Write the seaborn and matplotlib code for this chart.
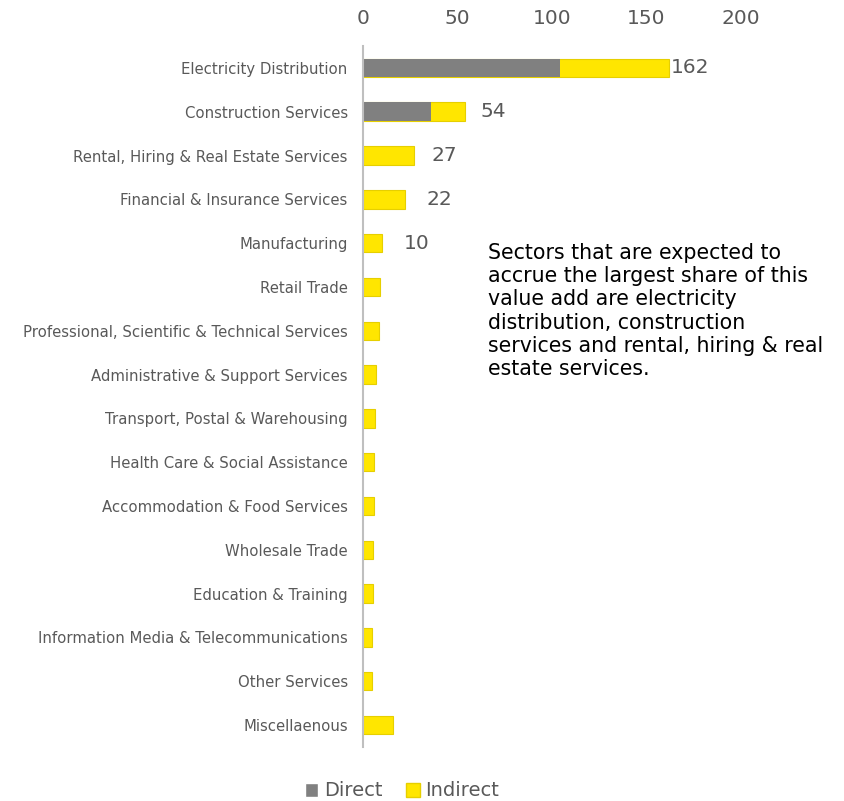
import numpy as np
import pandas as pd
from matplotlib import pyplot as plt
from matplotlib.patches import Patch
import seaborn as sns

sectors = ["Electricity Distribution", "Construction Services",
           "Rental, Hiring & Real Estate Services", "Financial & Insurance Services",
           "Manufacturing", "Retail Trade",
           "Professional, Scientific & Technical Services",
           "Administrative & Support Services", "Transport, Postal & Warehousing",
           "Health Care & Social Assistance", "Accommodation & Food Services",
           "Wholesale Trade", "Education & Training",
           "Information Media & Telecommunications", "Other Services",
           "Miscellaenous"]
direct = [104, 36, 0, 0, 0, 0, 0, 0, 0, 0, 0, 0, 0, 0, 0, 0]
indirect = [58, 18, 27, 22, 10, 9, 8.5, 7, 6.5, 5.6, 5.6, 5.1, 5.1, 4.6, 4.6, 16]
labels = ["162", "54", "27", "22", "10"]
label_gap = [2, 15, 18, 22, 22]  # pixels from bar end, as in the original

note = ("Sectors that are expected to\naccrue the largest share of this\n"
        "value add are electricity\ndistribution, construction\n"
        "services and rental, hiring & real\nestate services.")

df = pd.DataFrame({"Sector": sectors, "Direct": direct, "Indirect": indirect})
df["Total"] = df["Direct"] + df["Indirect"]

grey_txt = "#595959"
yellow = "#FFE600"
grey_bar = "#808080"

sns.set_style("white")
plt.rcParams["font.family"] = ["DejaVu Sans"]

fig = plt.figure(figsize=(8.44, 8.01), dpi=100)
ax = fig.add_axes([0.430, 0.0674, 0.448, 0.8752])

sns.barplot(data=df, x="Total", y="Sector", orient="h", color=yellow,
            edgecolor="#E6CF00", linewidth=0.8, width=0.42, saturation=1, ax=ax)
sns.barplot(data=df, x="Direct", y="Sector", orient="h", color=grey_bar,
            linewidth=0, width=0.42, saturation=1, ax=ax)

for i, (lab, gap) in enumerate(zip(labels, label_gap)):
    ax.annotate(lab, xy=(df["Total"][i], i), xytext=(gap, 0),
                textcoords="offset pixels", va="center", ha="left",
                fontsize=14.5, color=grey_txt)

ax.set_xlim(0, 200)
ax.set_ylim(15.5, -0.5)
ax.set_xticks([0, 50, 100, 150, 200])
ax.xaxis.tick_top()
ax.tick_params(axis="x", length=0, pad=13, labelsize=14.5, labelcolor=grey_txt)
ax.tick_params(axis="y", length=0, pad=11, labelsize=10.7, labelcolor=grey_txt)
ax.set_xlabel("")
ax.set_ylabel("")
for s in ["top", "right", "bottom"]:
    ax.spines[s].set_visible(False)
ax.spines["left"].set_color("#BFBFBF")
ax.spines["left"].set_linewidth(1.5)

fig.text(488 / 844, 1 - 243 / 801, note, fontsize=14.8, color="black",
         va="top", ha="left", linespacing=1.2)

handles = [Patch(facecolor=grey_bar, label="Direct"),
           Patch(facecolor=yellow, edgecolor="#E6CF00", label="Indirect")]
fig.legend(handles=handles, loc="center", bbox_to_anchor=(402 / 844, 1 - 791 / 801),
           ncol=2, frameon=False, fontsize=14, labelcolor=grey_txt,
           handlelength=0.7, handleheight=0.7, handletextpad=0.3, columnspacing=1.2)

plt.savefig("out.png", dpi=100)
